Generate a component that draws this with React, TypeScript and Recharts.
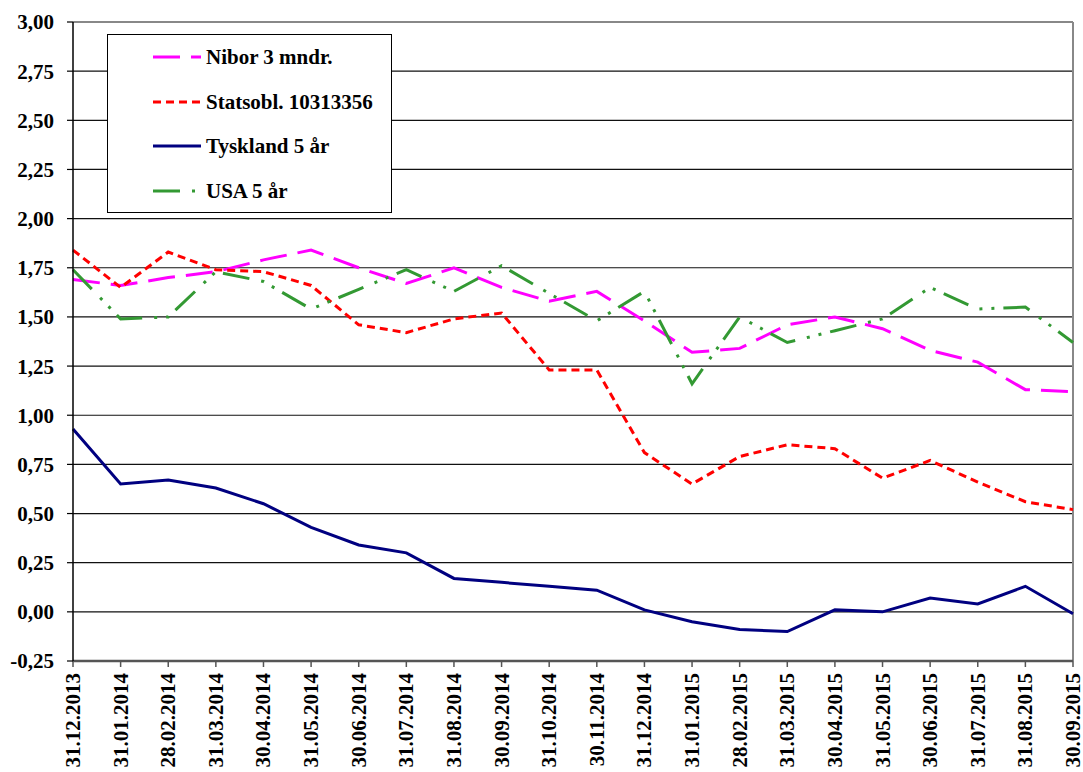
import React from 'react';
import { LineChart, Line, XAxis, YAxis, CartesianGrid, Legend, ReferenceLine } from 'recharts';

const dates = ['31.12.2013','31.01.2014','28.02.2014','31.03.2014','30.04.2014','31.05.2014','30.06.2014','31.07.2014','31.08.2014','30.09.2014','31.10.2014','30.11.2014','31.12.2014','31.01.2015','28.02.2015','31.03.2015','30.04.2015','31.05.2015','30.06.2015','31.07.2015','31.08.2015','30.09.2015'];
const nibor = [1.69, 1.66, 1.70, 1.73, 1.79, 1.84, 1.75, 1.67, 1.75, 1.65, 1.58, 1.63, 1.48, 1.32, 1.34, 1.46, 1.50, 1.44, 1.33, 1.27, 1.13, 1.12];
const statsobl = [1.84, 1.65, 1.83, 1.74, 1.73, 1.66, 1.46, 1.42, 1.49, 1.52, 1.23, 1.23, 0.81, 0.65, 0.79, 0.85, 0.83, 0.68, 0.77, 0.66, 0.56, 0.52];
const tyskland = [0.93, 0.65, 0.67, 0.63, 0.55, 0.43, 0.34, 0.30, 0.17, 0.15, 0.13, 0.11, 0.01, -0.05, -0.09, -0.10, 0.01, 0.00, 0.07, 0.04, 0.13, -0.01];
const usa = [1.74, 1.49, 1.50, 1.73, 1.68, 1.54, 1.64, 1.74, 1.63, 1.76, 1.62, 1.48, 1.63, 1.16, 1.50, 1.37, 1.43, 1.49, 1.65, 1.54, 1.55, 1.37];
const yTicks = [-0.25, 0, 0.25, 0.5, 0.75, 1, 1.25, 1.5, 1.75, 2, 2.25, 2.5, 2.75, 3];

const seriesNames = ['Nibor 3 mndr.', 'Statsobl. 10313356', 'Tyskland 5 år', 'USA 5 år'];

const data = dates.map((d, i) => ({
  date: d,
  nibor: nibor[i],
  statsobl: statsobl[i],
  tyskland: tyskland[i],
  usa: usa[i],
}));

const FONT = '"Liberation Serif", "Times New Roman", serif';

const styles = [
  { key: 'nibor', color: '#FF00FF', dash: '27 11' },
  { key: 'statsobl', color: '#FF0000', dash: '8 5' },
  { key: 'tyskland', color: '#000080', dash: undefined },
  { key: 'usa', color: '#339933', dash: '27 12 3 9 3 9' },
];

const XTick = (props: any) => {
  const { x, y, payload } = props;
  return (
    <text
      x={x}
      y={y}
      transform={`rotate(-90, ${x}, ${y})`}
      textAnchor="end"
      dominantBaseline="central"
      fontFamily={FONT}
      fontWeight="bold"
      fontSize={21}
      fill="#000"
    >
      {payload.value}
    </text>
  );
};

const LegendBox = () => (
  <div
    style={{
      position: 'relative',
      width: 285,
      height: 179,
      border: '1.5px solid #000',
      background: '#fff',
      boxSizing: 'border-box',
      fontFamily: FONT,
      fontWeight: 'bold',
      fontSize: 21,
    }}
  >
    {styles.map((s, i) => {
      const cy = 22 + i * 44.5;
      return (
        <div key={s.key} style={{ position: 'absolute', left: 0, top: cy - 14, height: 28, width: 285 }}>
          <svg width={50} height={28} style={{ position: 'absolute', left: 45, top: 0 }}>
            <line x1={0} y1={14} x2={48} y2={14} stroke={s.color} strokeWidth={3} strokeDasharray={s.dash} />
          </svg>
          <span style={{ position: 'absolute', left: 98, top: 0, lineHeight: '28px', whiteSpace: 'nowrap', color: '#000' }}>
            {seriesNames[i]}
          </span>
        </div>
      );
    })}
  </div>
);

export default function App() {
  return (
    <div style={{ position: 'absolute', left: 0, top: 0, width: 1083, height: 772, background: '#fff' }}>
      <LineChart width={1083} height={772} data={data} margin={{ top: 22, right: 10, bottom: 0, left: 0 }}>
        <CartesianGrid vertical={false} stroke="#111" strokeWidth={1.2} />
        <XAxis
          dataKey="date"
          height={111}
          interval={0}
          tick={<XTick />}
          tickSize={6}
          tickMargin={6}
          axisLine={{ stroke: '#555', strokeWidth: 2.5 }}
          tickLine={{ stroke: '#555', strokeWidth: 1.5 }}
        />
        <YAxis
          width={73}
          domain={[-0.25, 3]}
          ticks={yTicks}
          interval={0}
          tickFormatter={(v: number) => v.toFixed(2).replace('.', ',')}
          tick={{ fontFamily: FONT, fontWeight: 'bold', fontSize: 21, fill: '#000' }}
          tickSize={6}
          tickMargin={13}
          axisLine={{ stroke: '#000', strokeWidth: 1.5 }}
          tickLine={{ stroke: '#000', strokeWidth: 1.2 }}
        />
        <ReferenceLine y={3} stroke="#888" strokeWidth={2} />
        <ReferenceLine x={dates[dates.length - 1]} stroke="#888" strokeWidth={2} />
        <Legend
          layout="horizontal"
          verticalAlign="middle"
          align="center"
          content={<LegendBox />}
          wrapperStyle={{ position: 'absolute', left: 107, top: 34, width: 285, height: 179 }}
        />
        {styles.map((s) => (
          <Line
            key={s.key}
            type="linear"
            dataKey={s.key}
            stroke={s.color}
            strokeWidth={3}
            strokeDasharray={s.dash}
            strokeLinecap="butt"
            dot={false}
            activeDot={false}
            isAnimationActive={false}
          />
        ))}
      </LineChart>
    </div>
  );
}
